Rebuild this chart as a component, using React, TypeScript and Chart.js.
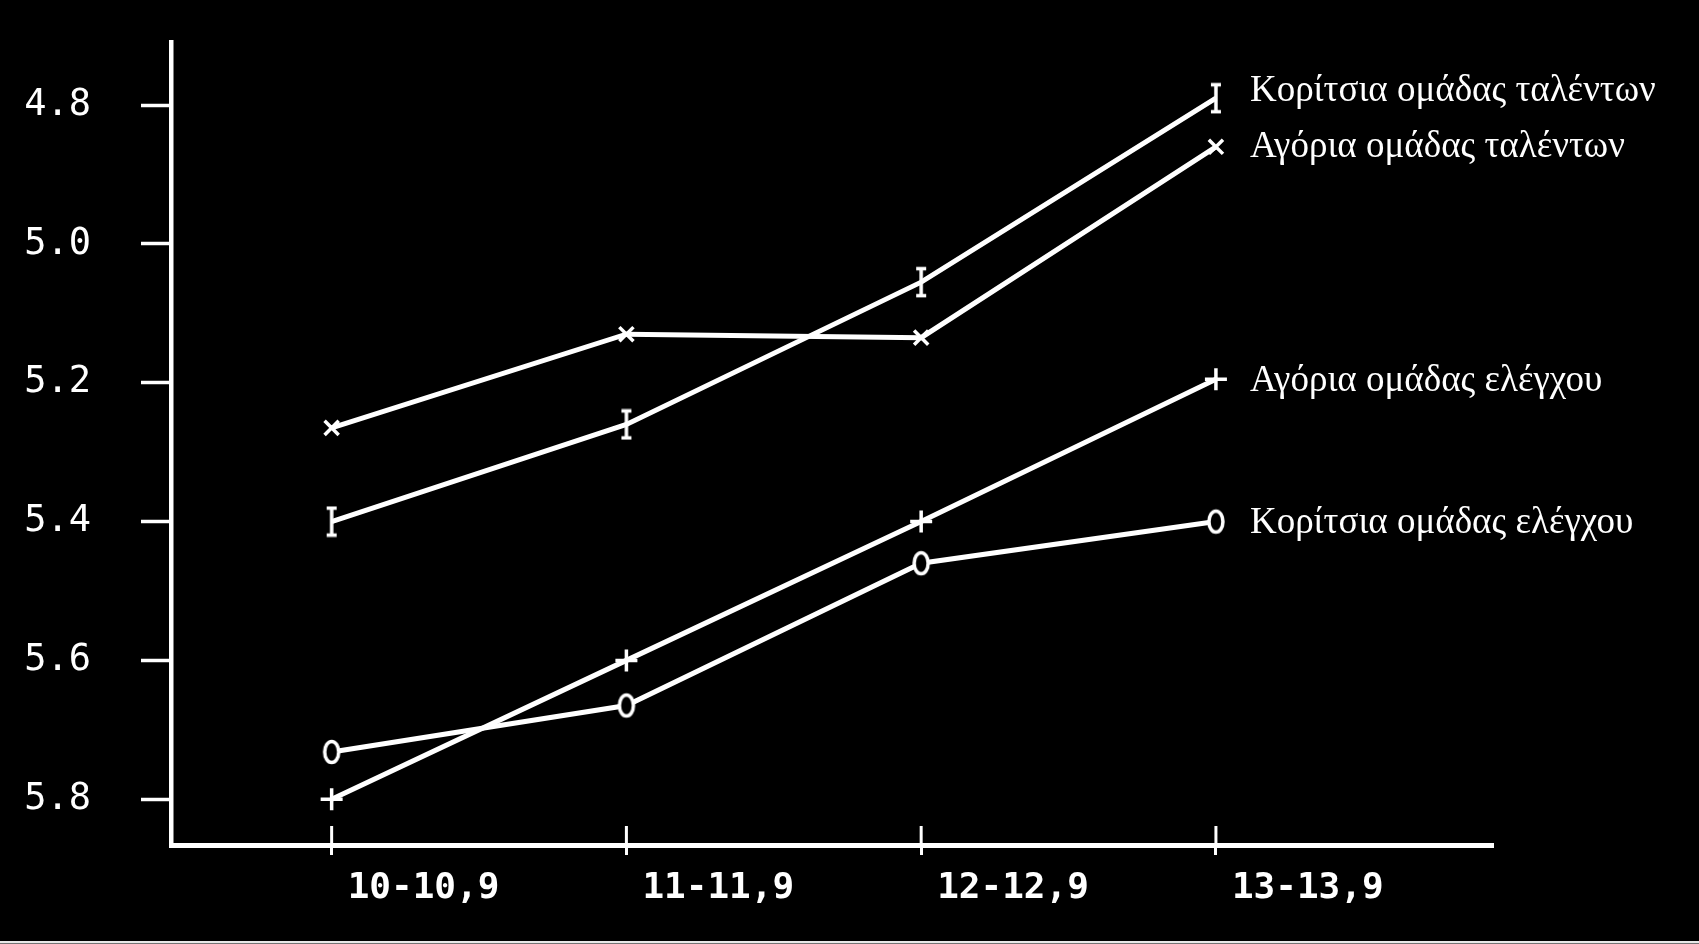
import React, { useEffect, useRef } from "react";
import { Chart, registerables } from "chart.js";

Chart.register(...registerables);

// ---- data ----
const categories = ["10-10,9", "11-11,9", "12-12,9", "13-13,9"];
const seriesNames = [
  "Κορίτσια ομάδας ταλέντων",
  "Αγόρια ομάδας ταλέντων",
  "Αγόρια ομάδας ελέγχου",
  "Κορίτσια ομάδας ελέγχου",
];
const girlsTalent = [5.4, 5.26, 5.055, 4.79];
const boysTalent = [5.265, 5.13, 5.135, 4.86];
const boysControl = [5.8, 5.6, 5.4, 5.195];
const girlsControl = [5.732, 5.665, 5.46, 5.4];
const yTicks = [4.8, 5.0, 5.2, 5.4, 5.6, 5.8];

// ---- style ----
const W = 1699;
const H = 944;
const labelDy = [3, 10, 12, 11];
const labelDx = 34;

function makeIMarker(): HTMLCanvasElement {
  const c = document.createElement("canvas");
  c.width = 14;
  c.height = 32;
  const g = c.getContext("2d")!;
  g.strokeStyle = "#fff";
  g.lineWidth = 3.5;
  g.beginPath();
  g.moveTo(7, 2);
  g.lineTo(7, 30);
  g.moveTo(2, 2.5);
  g.lineTo(12, 2.5);
  g.moveTo(2, 29.5);
  g.lineTo(12, 29.5);
  g.stroke();
  return c;
}

function makeOMarker(): HTMLCanvasElement {
  const c = document.createElement("canvas");
  c.width = 20;
  c.height = 28;
  const g = c.getContext("2d")!;
  g.fillStyle = "#000";
  g.strokeStyle = "#fff";
  g.lineWidth = 3.5;
  g.beginPath();
  g.ellipse(10, 14, 7, 10.5, 0, 0, Math.PI * 2);
  g.fill();
  g.stroke();
  return c;
}

const toXY = (arr: number[]) => arr.map((v, i) => ({ x: i, y: v }));

const decorPlugin = {
  id: "decor",
  beforeDraw(chart: any) {
    const ctx = chart.ctx;
    ctx.save();
    ctx.fillStyle = "#000";
    ctx.fillRect(0, 0, chart.width, chart.height);
    ctx.fillStyle = "#e8e8e8";
    ctx.fillRect(0, 941, chart.width, 2.5);
    ctx.restore();
  },
  afterDraw(chart: any) {
    const ctx = chart.ctx;
    const xs = chart.scales.x;
    ctx.save();
    ctx.strokeStyle = "#fff";
    ctx.lineWidth = 3;
    xs.ticks.forEach((t: any) => {
      const px = xs.getPixelForValue(t.value);
      ctx.beginPath();
      ctx.moveTo(px, xs.top - 19);
      ctx.lineTo(px, xs.top);
      ctx.stroke();
    });
    // series labels at line ends
    ctx.fillStyle = "#fff";
    ctx.font = "37px 'Liberation Serif'";
    ctx.textAlign = "left";
    ctx.textBaseline = "alphabetic";
    chart.data.datasets.forEach((ds: any, i: number) => {
      const meta = chart.getDatasetMeta(i);
      const last = meta.data[meta.data.length - 1];
      ctx.fillText(ds.label, last.x + labelDx, last.y + labelDy[i]);
    });
    ctx.restore();
  },
};

export default function App() {
  const ref = useRef<HTMLCanvasElement>(null);
  useEffect(() => {
    if (!ref.current) return;
    const iMarker = makeIMarker();
    const oMarker = makeOMarker();
    const common = {
      borderColor: "#fff",
      backgroundColor: "#fff",
      borderWidth: 5,
      pointBorderColor: "#fff",
      pointBackgroundColor: "#fff",
      tension: 0,
    };
    const chart = new Chart(ref.current, {
      type: "line",
      data: {
        datasets: [
          { ...common, label: seriesNames[0], data: toXY(girlsTalent), pointStyle: iMarker as any, pointRadius: 8 },
          { ...common, label: seriesNames[1], data: toXY(boysTalent), pointStyle: "crossRot", pointRadius: 10, pointBorderWidth: 3.5 },
          { ...common, label: seriesNames[2], data: toXY(boysControl), pointStyle: "cross", pointRadius: 11, pointBorderWidth: 3.5 },
          { ...common, label: seriesNames[3], data: toXY(girlsControl), pointStyle: oMarker as any, pointRadius: 8 },
        ],
      },
      options: {
        animation: false,
        responsive: false,
        maintainAspectRatio: false,
        layout: { padding: { left: 0, top: 42, right: 206, bottom: 0 } },
        plugins: { legend: { display: false }, tooltip: { enabled: false } },
        scales: {
          x: {
            type: "linear",
            min: -0.545,
            max: 3.94,
            afterBuildTicks: (s: any) => {
              s.ticks = categories.map((_, i) => ({ value: i }));
            },
            afterFit: (s: any) => {
              s.height = 99;
              s.paddingLeft = 0;
              s.paddingRight = 0;
            },
            grid: {
              drawOnChartArea: false,
              drawTicks: true,
              tickLength: 10,
              tickWidth: 3,
              tickColor: "#fff",
            },
            border: { display: true, color: "#fff", width: 5 },
            ticks: {
              color: "#fff",
              font: { family: "'DejaVu Sans Mono'", size: 36, weight: "bold" },
              padding: 12,
              align: "start",
              labelOffset: 16,
              maxRotation: 0,
              autoSkip: false,
              callback: (v: any) => categories[Math.round(Number(v))] ?? "",
            },
          },
          y: {
            type: "linear",
            reverse: true,
            min: 4.709,
            max: 5.866,
            afterBuildTicks: (s: any) => {
              s.ticks = yTicks.map((v) => ({ value: v }));
            },
            afterFit: (s: any) => {
              s.width = 171;
              s.paddingTop = 0;
              s.paddingBottom = 0;
            },
            grid: {
              drawOnChartArea: false,
              drawTicks: true,
              tickLength: 30,
              tickWidth: 3.5,
              tickColor: "#fff",
            },
            border: { display: true, color: "#fff", width: 4.5 },
            ticks: {
              color: "#fff",
              font: { family: "'DejaVu Sans Mono'", size: 37 },
              padding: 50,
              autoSkip: false,
              callback: (v: any) => Number(v).toFixed(1),
            },
          },
        },
      },
      plugins: [decorPlugin],
    });
    return () => chart.destroy();
  }, []);

  return (
    <div style={{ position: "fixed", left: 0, top: 0, width: W, height: H, background: "#000" }}>
      <canvas ref={ref} width={W} height={H} style={{ width: W, height: H, display: "block" }} />
    </div>
  );
}
